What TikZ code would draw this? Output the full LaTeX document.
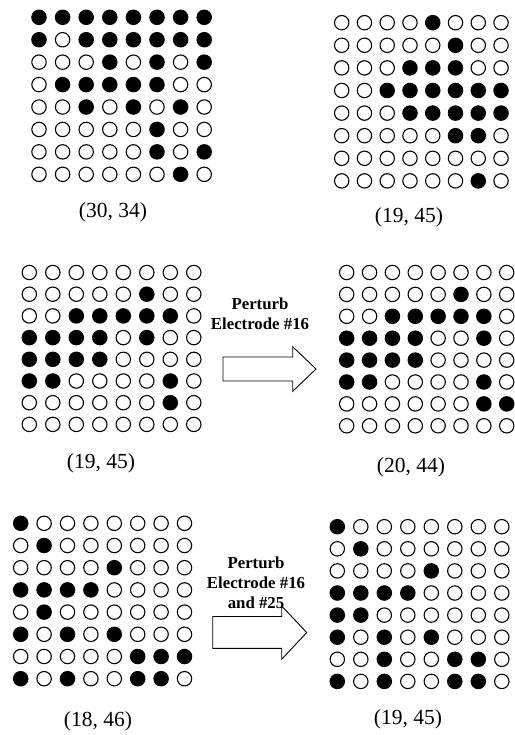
\documentclass[tikz,border=0pt]{standalone}
\usepackage{fontspec}
\setmainfont{Liberation Serif}
\tikzset{
  dotbase/.style={circle, draw=black, line width=1.1pt, minimum size=14.4pt, inner sep=0pt},
  dotfull/.style={dotbase, fill=black},
  dotempty/.style={dotbase, fill=white},
  coordlabel/.style={font=\fontsize{21.5}{24}\selectfont, inner sep=0pt},
  perturbtext/.style={font=\fontsize{16.8}{19.8}\selectfont\bfseries, align=center, inner sep=0pt},
  blockarrow/.style={draw=black, line width=0.9pt, fill=white, line join=miter}
}
\newcommand\dotgrid[6]{%
  \foreach \row [count=\j] in {#6} {
    \foreach \v [count=\i] in \row {
      \ifnum\v=1
        \node[dotfull] (#1-\j-\i) at ({#2+(\i-1)*#4},{#3+(\j-1)*#5}) {};
      \else
        \node[dotempty] (#1-\j-\i) at ({#2+(\i-1)*#4},{#3+(\j-1)*#5}) {};
      \fi
    }
  }%
}
\begin{document}
\begin{tikzpicture}[x=1pt,y=-1pt]
\useasboundingbox (0,0) rectangle (514,735);
% top-left grid
\dotgrid{ga}{39}{17.3}{23.6}{22.43}{%
{1,1,1,1,1,1,1,1},{1,0,1,1,1,1,1,1},{0,0,0,1,0,1,0,1},{0,1,1,1,1,1,0,0},%
{0,0,1,0,1,0,1,0},{0,0,0,0,0,1,0,0},{0,0,0,0,0,1,0,1},{0,0,0,0,0,0,1,0}}
% top-right grid
\dotgrid{gb}{341.7}{22.7}{22.76}{22.6}{%
{0,0,0,0,1,0,0,0},{0,0,0,0,0,1,0,0},{0,0,0,1,1,1,0,0},{0,0,1,1,1,1,1,1},%
{0,0,0,1,1,1,1,1},{0,0,0,0,0,1,1,0},{0,0,0,0,0,0,0,0},{0,0,0,0,0,0,1,0}}
% middle-left grid
\dotgrid{gc}{29.3}{272.5}{23.5}{21.7}{%
{0,0,0,0,0,0,0,0},{0,0,0,0,0,1,0,0},{0,0,1,1,1,1,1,0},{1,1,1,1,0,1,0,0},%
{1,1,1,1,0,0,0,0},{1,1,0,0,0,0,1,0},{0,0,0,0,0,0,1,0},{0,0,0,0,0,0,0,0}}
% middle-right grid
\dotgrid{gd}{346.7}{272.5}{22.86}{21.9}{%
{0,0,0,0,0,0,0,0},{0,0,0,0,0,1,0,0},{0,0,1,1,1,1,1,0},{1,1,1,1,0,0,1,0},%
{1,1,1,1,0,0,0,0},{1,1,0,0,0,0,1,0},{0,0,0,0,0,0,1,1},{0,0,0,0,0,0,0,0}}
% bottom-left grid
\dotgrid{ge}{20.7}{523.3}{23.4}{22.2}{%
{1,0,0,0,0,0,0,0},{0,1,0,0,0,0,0,0},{0,0,0,0,1,0,0,0},{1,1,1,1,0,0,0,0},%
{0,1,0,0,0,0,0,0},{1,0,1,0,1,0,0,0},{0,0,0,0,0,1,1,1},{1,0,1,0,0,1,1,0}}
% bottom-right grid
\dotgrid{gf}{337.3}{526.7}{23.5}{22.1}{%
{1,0,0,0,0,0,0,0},{0,1,0,0,0,0,0,0},{0,0,0,0,1,0,0,0},{1,1,1,1,0,0,0,0},%
{1,1,0,0,0,0,0,0},{1,0,1,0,1,0,0,0},{0,0,1,0,0,1,1,0},{1,0,1,0,0,1,1,0}}
% labels
\node[coordlabel] (la) at (113,212) {(30, 34)};
\node[coordlabel] (lb) at (409,217) {(19, 45)};
\node[coordlabel] (lc) at (101,463) {(19, 45)};
\node[coordlabel] (ld) at (411,467) {(20, 44)};
\node[coordlabel] (le) at (98,721) {(18, 46)};
\node[coordlabel] (lf) at (408,719) {(19, 45)};
% arrow 1
\draw[blockarrow] (223,357) -- (292.7,357) -- (292.7,346.7) -- (316,369) -- (292.7,391.3) -- (292.7,381) -- (223,381) -- cycle;
\node[perturbtext] (ta) at (260,314) {Perturb\\Electrode \#16};
% arrow 2
\draw[blockarrow] (212.7,616.5) -- (281.7,616.5) -- (281.7,606) -- (306.7,632.5) -- (281.7,659.3) -- (281.7,648.3) -- (212.7,648.3) -- cycle;
\node[perturbtext] (tb) at (256,582.5) {Perturb\\Electrode \#16\\and \#25};
\end{tikzpicture}
\end{document}
